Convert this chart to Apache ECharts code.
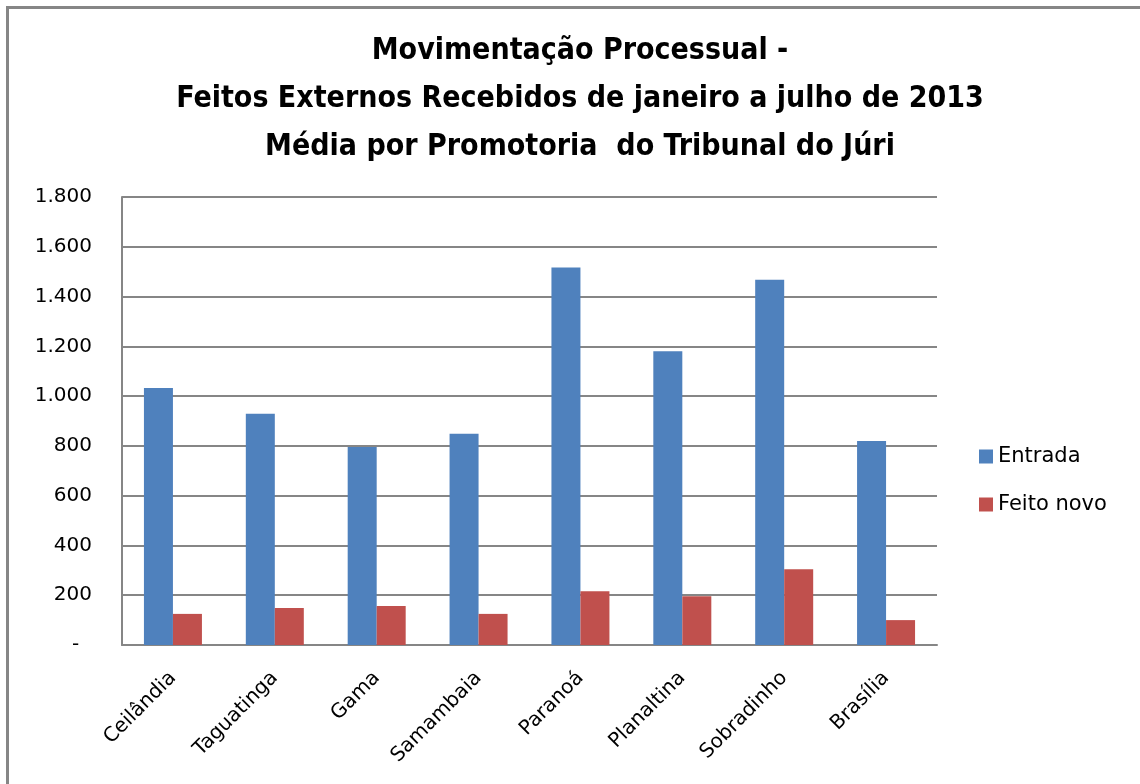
<!DOCTYPE html>
<html>
<head>
<meta charset="utf-8">
<script src="https://cdn.jsdelivr.net/npm/echarts@6/dist/echarts.min.js"></script>
<style>
  html, body { margin: 0; padding: 0; background: #fff; }
  #chart { width: 1140px; height: 784px; }
</style>
</head>
<body>
<div id="chart"></div>
<script>
// dados
var categorias = ['Ceilândia', 'Taguatinga', 'Gama', 'Samambaia', 'Paranoá', 'Planaltina', 'Sobradinho', 'Brasília'];
var entrada = [1033, 929, 796, 849, 1517, 1180, 1468, 820];
var feitoNovo = [125, 149, 157, 125, 216, 196, 304, 100];
var nomesSeries = ['Entrada', 'Feito novo'];
var tituloLinhas = [
    'Movimentação Processual -',
    'Feitos Externos Recebidos de janeiro a julho de 2013',
    'Média por Promotoria  do Tribunal do Júri'
];

var fonte = '"DejaVu Sans", sans-serif';
var cinza = '#868686';

// separador de milhar com ponto, zero vira "-"
function formataEixo(v) {
    if (v === 0) return '-  ';
    return String(v).replace(/\B(?=(\d{3})+(?!\d))/g, '.');
}

var myChart = echarts.init(document.getElementById('chart'));

var option = {
    backgroundColor: '#fff',
    animation: false,
    title: {
        text: tituloLinhas.join('\n'),
        left: 575,
        textAlign: 'center',
        top: 22,
        textStyle: {
            fontFamily: '"DejaVu Sans Condensed", "DejaVu Sans", sans-serif',
            fontWeight: 'bold',
            fontSize: 30,
            lineHeight: 48,
            color: '#000'
        }
    },
    legend: {
        data: nomesSeries,
        orient: 'vertical',
        left: 974,
        top: 441,
        itemWidth: 14,
        itemHeight: 14,
        itemGap: 27,
        icon: 'rect',
        textStyle: { fontFamily: fonte, fontSize: 21, color: '#000' }
    },
    grid: {
        left: 122,
        right: 203,
        top: 197,
        bottom: 139
    },
    xAxis: {
        type: 'category',
        data: categorias,
        axisLine: { lineStyle: { color: cinza, width: 2 } },
        axisTick: { show: false },
        axisLabel: {
            rotate: 45,
            margin: 30,
            interval: 0,
            fontFamily: fonte,
            fontSize: 20,
            color: '#000'
        }
    },
    yAxis: {
        type: 'value',
        min: 0,
        max: 1800,
        interval: 200,
        axisLine: { show: true, lineStyle: { color: cinza, width: 2 } },
        axisTick: { show: false },
        splitLine: { lineStyle: { color: cinza, width: 2 } },
        axisLabel: {
            margin: 30,
            fontFamily: fonte,
            fontSize: 20,
            color: '#000',
            formatter: formataEixo
        }
    },
    series: [
        {
            name: nomesSeries[0],
            type: 'bar',
            data: entrada,
            barWidth: 29,
            barGap: '0%',
            itemStyle: { color: '#4F81BD' }
        },
        {
            name: nomesSeries[1],
            type: 'bar',
            data: feitoNovo,
            barWidth: 29,
            barGap: '0%',
            itemStyle: { color: '#C0504D' }
        }
    ],
    graphic: [
        {
            type: 'rect',
            shape: { x: 7.5, y: 7.5, width: 1160, height: 800 },
            style: { fill: 'none', stroke: cinza, lineWidth: 3 },
            silent: true
        }
    ]
};

myChart.setOption(option);
</script>
</body>
</html>
